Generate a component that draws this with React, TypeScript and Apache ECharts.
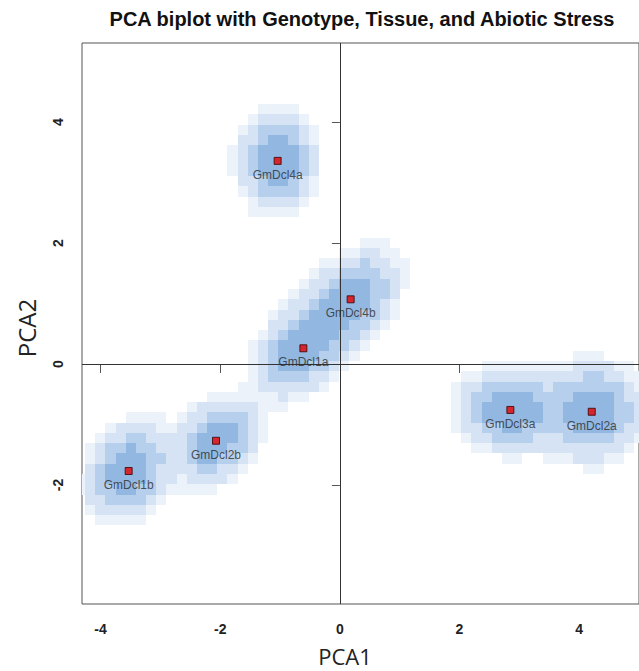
import React, { useEffect, useRef } from "react";
import * as echarts from "echarts";

// Sample means (PCA scores)
const pointNames = ["GmDcl4a", "GmDcl4b", "GmDcl1a", "GmDcl3a", "GmDcl2a", "GmDcl2b", "GmDcl1b"];
const pc1 = [-1.04, 0.18, -0.61, 2.85, 4.21, -2.07, -3.53];
const pc2 = [3.36, 1.07, 0.26, -0.76, -0.79, -1.27, -1.77];
// Spread of each group's cloud (read from the density blobs)
const spreadX = [0.32, 0.4, 0.4, 0.44, 0.42, 0.35, 0.35];
const spreadY = [0.42, 0.4, 0.4, 0.34, 0.4, 0.35, 0.4];
const spreadRho = [0, 0.4, 0.4, 0, 0, 0.3, 0.25];

const xTicks = [-4, -2, 0, 2, 4];
const yTicks = [-2, 0, 2, 4];

const densityLevels = [0.055, 0.13, 0.32, 0.62];
const levelColors = ["#ecf2fa", "#d5e3f4", "#b6cfec", "#92b8e2", "#73a2d7"];
const CELL = 0.17;

function buildCells() {
  const cells: number[][] = [];
  for (let gx = -4.6; gx < 5.2; gx += CELL) {
    for (let gy = -4.2; gy < 5.5; gy += CELL) {
      const cx = gx + CELL / 2;
      const cy = gy + CELL / 2;
      let d = 0;
      for (let i = 0; i < pc1.length; i++) {
        const dx = (cx - pc1[i]) / spreadX[i];
        const dy = (cy - pc2[i]) / spreadY[i];
        const r = spreadRho[i];
        const q = (dx * dx - 2 * r * dx * dy + dy * dy) / (1 - r * r);
        d += Math.exp(-q / 2);
      }
      let lvl = 0;
      for (const t of densityLevels) if (d >= t) lvl++;
      if (lvl > 0) cells.push([gx, gy, lvl]);
    }
  }
  return cells;
}

export default function App() {
  const ref = useRef<HTMLDivElement>(null);
  useEffect(() => {
    if (!ref.current) return;
    const chart = echarts.init(ref.current, null, { renderer: "svg" });
    const cells = buildCells();
    const option: any = {
      animation: false,
      backgroundColor: "#ffffff",
      graphic: [
        {
          type: "text",
          x: 362,
          y: 19,
          style: {
            text: "PCA biplot with Genotype, Tissue, and Abiotic Stress",
            font: "bold 20px 'Liberation Sans', Arial, sans-serif",
            fill: "#111",
            align: "center",
            verticalAlign: "middle",
          },
        },
        {
          type: "text",
          x: 345,
          y: 656,
          style: {
            text: "PCA1",
            font: "22px 'Open Sans', sans-serif",
            fill: "#222",
            align: "center",
            verticalAlign: "middle",
          },
        },
        {
          type: "text",
          x: 26,
          y: 328,
          rotation: Math.PI / 2,
          style: {
            text: "PCA2",
            font: "24px 'Open Sans', sans-serif",
            fill: "#222",
            align: "center",
            verticalAlign: "middle",
          },
        },
      ],
      grid: {
        left: 82,
        top: 43,
        right: -5,
        bottom: 67,
        show: true,
        borderColor: "#555",
        borderWidth: 1,
        backgroundColor: "transparent",
      },
      xAxis: {
        type: "value",
        min: -4.31,
        max: 5,
        axisLine: { show: false },
        splitLine: { show: false },
        axisTick: { show: true, length: 9, customValues: xTicks, lineStyle: { color: "#555" } },
        axisLabel: {
          customValues: xTicks,
          margin: 18,
          fontFamily: "'Liberation Sans', Arial, sans-serif",
          fontSize: 14,
          fontWeight: "bold",
          color: "#222",
        },
      },
      yAxis: {
        type: "value",
        min: -3.97,
        max: 5.31,
        axisLine: { show: false },
        splitLine: { show: false },
        axisTick: { show: true, length: 8, customValues: yTicks, lineStyle: { color: "#555" } },
        axisLabel: {
          customValues: yTicks,
          rotate: 90,
          margin: 17,
          fontFamily: "'Liberation Sans', Arial, sans-serif",
          fontSize: 14,
          fontWeight: "bold",
          color: "#222",
        },
      },
      series: [
        {
          type: "custom",
          clip: true,
          z: 1,
          silent: true,
          data: cells,
          renderItem: (params: any, api: any) => {
            const x0 = api.value(0);
            const y0 = api.value(1);
            const lvl = api.value(2);
            const p1 = api.coord([x0, y0 + CELL]);
            const p2 = api.coord([x0 + CELL, y0]);
            const x = Math.round(p1[0]);
            const y = Math.round(p1[1]);
            return {
              type: "rect",
              shape: { x, y, width: Math.round(p2[0]) - x, height: Math.round(p2[1]) - y },
              style: { fill: levelColors[lvl - 1] },
            };
          },
        },
        {
          type: "scatter",
          z: 5,
          symbol: "rect",
          symbolSize: 7,
          itemStyle: { color: "#e60000", borderColor: "#3a0000", borderWidth: 1 },
          data: pc1.map((x, i) => [x, pc2[i], pointNames[i]]),
          label: {
            show: true,
            position: "bottom",
            distance: 4,
            formatter: (p: any) => p.value[2],
            fontFamily: "'Liberation Sans', Arial, sans-serif",
            fontSize: 12,
            color: "#2a2a2a",
          },
          markLine: {
            silent: true,
            symbol: "none",
            label: { show: false },
            lineStyle: { color: "#333", width: 1, type: "solid" },
            data: [{ xAxis: 0 }, { yAxis: 0 }],
          },
        },
      ],
    };
    chart.setOption(option);
    return () => chart.dispose();
  }, []);
  return (
    <div
      ref={ref}
      style={{ position: "fixed", left: 0, top: 0, width: 639, height: 671 }}
    />
  );
}
